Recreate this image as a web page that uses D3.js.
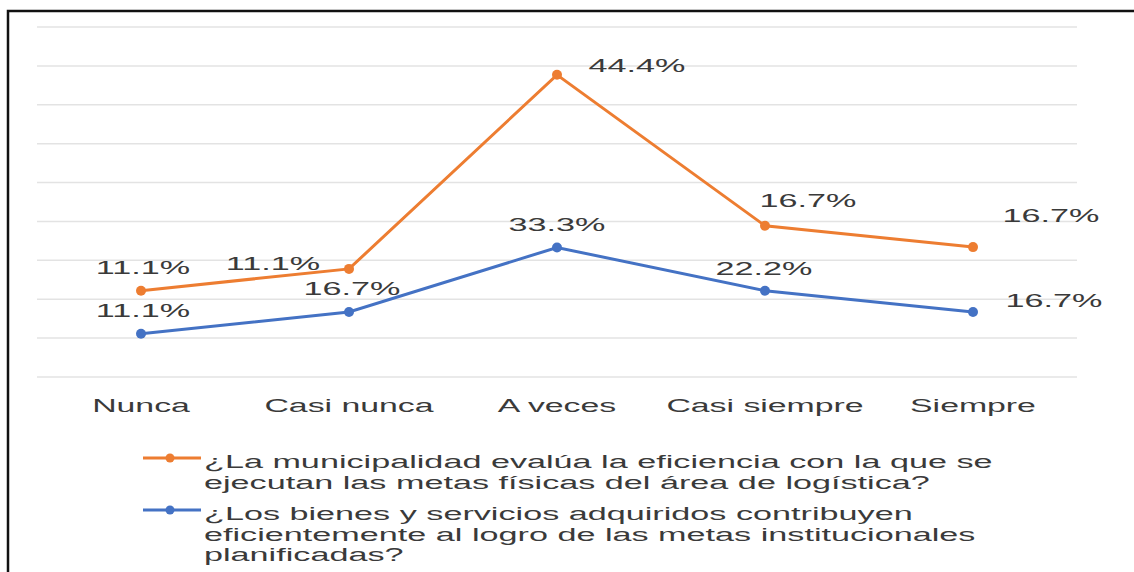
<!DOCTYPE html>
<html>
<head>
<meta charset="utf-8">
<script src="https://cdn.jsdelivr.net/npm/d3@7"></script>
<style>
  body { margin: 0; background: #fff; }
  text { font-family: "Liberation Sans", Arial, sans-serif; fill: #3a3a3a; }
</style>
</head>
<body>
<div id="chart"></div>
<script>
// data
let categories = ["Nunca", "Casi nunca", "A veces", "Casi siempre", "Siempre"]
let evaluaEficiencia = [11.1, 11.1, 44.4, 16.7, 16.7]
let bienesServicios = [11.1, 16.7, 33.3, 22.2, 16.7]
let seriesNames = [
  ["¿La municipalidad evalúa la eficiencia con la que se", "ejecutan las metas físicas del área de logística?"],
  ["¿Los bienes y servicios adquiridos contribuyen", "eficientemente al logro de las metas institucionales", "planificadas?"]
]
let yTicks = [0, 10, 20, 30, 40, 50, 60, 70, 80, 90]

/* SVG */
let svgWidth = 1134
let svgHeight = 572
let svg = d3.select("#chart").append("svg")
  .attr("width", svgWidth).attr("height", svgHeight)

// outer frame (runs off the right and bottom edge)
svg.append("rect")
  .attr("x", 8).attr("y", 11).attr("width", 1140).attr("height", 600)
  .attr("fill", "none").attr("stroke", "#111").attr("stroke-width", 2.5)

let colors = ["#ED7D31", "#4472C4"]
let sx = 1.9 // the picture is stretched sideways

let x = d3.scaleBand().domain(categories).range([37, 1077])
let y = d3.scaleLinear().domain([0, 90]).range([377, 27])

// grid
svg.append("g").selectAll("line").data(yTicks).join("line")
  .attr("x1", 37).attr("x2", 1077)
  .attr("y1", d => y(d)).attr("y2", d => y(d))
  .attr("stroke", "#e3e3e3").attr("stroke-width", 1.5)

// category labels
let xAxis = svg.append("g").attr("transform", "translate(0,405)")
  .call(d3.axisBottom(x).tickSize(0).tickPadding(0))
xAxis.select(".domain").remove()
xAxis.selectAll("text")
  .attr("y", 0).attr("dy", "0.35em")
  .attr("font-size", 19).attr("fill", "#3a3a3a")
  .attr("font-family", "Liberation Sans, Arial, sans-serif")
  .attr("transform", "scale(1.78,1)")

// stacked lines: blue at bottom, orange on top of it
let rows = categories.map((c, i) => ({ cat: c, a: bienesServicios[i], b: evaluaEficiencia[i] }))
let stack = d3.stack().keys(["a", "b"])(rows)
let layers = [
  { key: "b", color: colors[0], pts: stack[1], vals: evaluaEficiencia },
  { key: "a", color: colors[1], pts: stack[0], vals: bienesServicios }
]

// label offsets from the point to the label centre
let offsets = {
  b: [[2, -23], [-76, -5], [80, -9], [43, -25], [78, -31]],
  a: [[2, -23], [3, -23], [0, -23], [-1, -22], [81, -11]]
}

let line = d3.line()
  .x((d, i) => x(categories[i]) + x.bandwidth() / 2)
  .y(d => y(d[1]))

layers.forEach(l => {
  svg.append("path").datum(l.pts)
    .attr("d", line).attr("fill", "none")
    .attr("stroke", l.color).attr("stroke-width", 3)
  svg.append("g").selectAll("circle").data(l.pts).join("circle")
    .attr("cx", (d, i) => x(categories[i]) + x.bandwidth() / 2)
    .attr("cy", d => y(d[1]))
    .attr("r", 5).attr("fill", l.color)
  svg.append("g").selectAll("text").data(l.vals).join("text")
    .attr("transform", (d, i) => {
      let px = x(categories[i]) + x.bandwidth() / 2 + offsets[l.key][i][0]
      let py = y(l.pts[i][1]) + offsets[l.key][i][1]
      return `translate(${px},${py}) scale(${sx},1)`
    })
    .attr("text-anchor", "middle").attr("dy", "0.35em")
    .attr("font-size", 18)
    .text(d => d.toFixed(1) + "%")
})

// legend
let legendTop = [462, 514]
seriesNames.forEach((lines, k) => {
  let g = svg.append("g")
  let my = legendTop[k] - 4
  g.append("line").attr("x1", 143).attr("x2", 201).attr("y1", my).attr("y2", my)
    .attr("stroke", colors[k]).attr("stroke-width", 3)
  g.append("circle").attr("cx", 170).attr("cy", my).attr("r", 4.5).attr("fill", colors[k])
  g.selectAll("text").data(lines).join("text")
    .attr("transform", (d, i) => `translate(204,${legendTop[k] + i * 20.5}) scale(${sx},1)`)
    .attr("dy", "0.35em").attr("font-size", 18)
    .text(d => d)
})
</script>
</body>
</html>
